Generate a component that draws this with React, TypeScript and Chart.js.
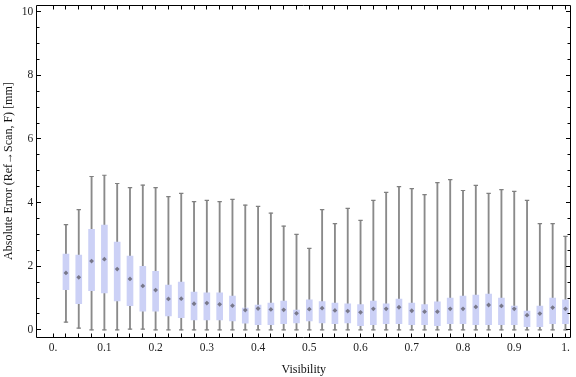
import React, { useEffect, useRef } from "react";
import { Chart, registerables } from "chart.js";

Chart.register(...registerables);

// ---- data ----
const visibility = [
  0.025, 0.05, 0.075, 0.1, 0.125, 0.15, 0.175, 0.2, 0.225, 0.25,
  0.275, 0.3, 0.325, 0.35, 0.375, 0.4, 0.425, 0.45, 0.475, 0.5,
  0.525, 0.55, 0.575, 0.6, 0.625, 0.65, 0.675, 0.7, 0.725, 0.75,
  0.775, 0.8, 0.825, 0.85, 0.875, 0.9, 0.925, 0.95, 0.975, 1.0,
];
const whiskerLow = [
  0.24, 0.05, 0, 0, 0, 0.02, 0.02, 0, 0, 0,
  0, 0, 0, 0, 0, 0, 0, 0, 0, 0,
  0, 0, 0, 0, 0, 0, 0, 0, 0, 0,
  0, 0, 0, 0, 0, 0, 0, 0, 0, 0,
];
const quartile1 = [
  1.26, 0.82, 1.23, 1.16, 0.91, 0.76, 0.59, 0.59, 0.44, 0.38,
  0.31, 0.31, 0.31, 0.28, 0.21, 0.16, 0.16, 0.19, 0.22, 0.28,
  0.22, 0.19, 0.22, 0.13, 0.16, 0.19, 0.19, 0.16, 0.16, 0.13,
  0.19, 0.19, 0.16, 0.16, 0.16, 0.16, 0.1, 0.1, 0.19, 0.19,
];
const medians = [
  1.79, 1.65, 2.16, 2.22, 1.91, 1.6, 1.38, 1.25, 0.97, 0.98,
  0.82, 0.84, 0.8, 0.76, 0.62, 0.67, 0.64, 0.63, 0.52, 0.65,
  0.68, 0.61, 0.59, 0.55, 0.66, 0.66, 0.71, 0.6, 0.57, 0.57,
  0.66, 0.66, 0.72, 0.78, 0.75, 0.66, 0.46, 0.51, 0.7, 0.66,
];
const quartile3 = [
  2.38, 2.35, 3.16, 3.29, 2.76, 2.32, 2.0, 1.84, 1.41, 1.5,
  1.19, 1.16, 1.16, 1.06, 0.68, 0.78, 0.84, 0.9, 0.62, 0.94,
  0.89, 0.84, 0.82, 0.79, 0.9, 0.82, 0.97, 0.84, 0.79, 0.88,
  1.0, 1.06, 1.09, 1.12, 1.0, 0.75, 0.59, 0.75, 1.0, 0.94,
];
const whiskerHigh = [
  3.31, 3.78, 4.82, 4.86, 4.6, 4.47, 4.55, 4.47, 4.19, 4.29,
  4.03, 4.07, 4.03, 4.1, 3.92, 3.88, 3.67, 3.26, 3.0, 2.56,
  3.78, 3.34, 3.82, 3.44, 4.07, 4.32, 4.5, 4.44, 4.25, 4.63,
  4.72, 4.38, 4.54, 4.29, 4.41, 4.35, 4.07, 3.34, 3.34, 2.94,
];

const xTickValues = [0, 0.1, 0.2, 0.3, 0.4, 0.5, 0.6, 0.7, 0.8, 0.9, 1.0];
const xTickLabels = ["0.", "0.1", "0.2", "0.3", "0.4", "0.5", "0.6", "0.7", "0.8", "0.9", "1."];
const yTickValues = [0, 2, 4, 6, 8, 10];
const yTickLabels = ["0", "2", "4", "6", "8", "10"];
const xMinorStep = 0.025;
const yMinorStep = 0.5;

const xTitle = "Visibility";
const yTitle = "Absolute Error (Ref\u2192Scan, F) [mm]";

const FONT = '"Liberation Serif", "Times New Roman", serif';

const frameTicksPlugin = {
  id: "frameTicks",
  afterDraw(chart: any) {
    const { ctx, chartArea, scales } = chart;
    const xs = scales.x;
    const ys = scales.y;
    const al = (v: number) => Math.floor(v) + 0.5;
    const L = al(chartArea.left - 0.2);
    const R = al(chartArea.right - 0.2);
    const T = al(chartArea.top - 0.2);
    const B = al(chartArea.bottom);
    ctx.save();
    ctx.strokeStyle = "#000";
    ctx.lineWidth = 1;
    ctx.beginPath();
    ctx.moveTo(L, T);
    ctx.lineTo(R, T);
    ctx.lineTo(R, B);
    ctx.lineTo(L, B);
    ctx.closePath();
    // x ticks (bottom and top, inward)
    const nx = Math.round(1 / xMinorStep);
    for (let i = 0; i <= nx; i++) {
      const px = al(xs.getPixelForValue(i * xMinorStep));
      ctx.moveTo(px, B);
      ctx.lineTo(px, B - 4);
      ctx.moveTo(px, T);
      ctx.lineTo(px, T + 4);
    }
    // y ticks (left and right, inward)
    const ny = Math.round(10 / yMinorStep);
    for (let i = 0; i <= ny; i++) {
      const v = i * yMinorStep;
      const py = al(ys.getPixelForValue(v));
      const major = Math.abs(v / 2 - Math.round(v / 2)) < 1e-6;
      const len = major ? 4.5 : 3;
      ctx.moveTo(L, py);
      ctx.lineTo(L + len, py);
      ctx.moveTo(R, py);
      ctx.lineTo(R - len, py);
    }
    ctx.stroke();
    ctx.restore();
  },
};

export default function App() {
  const ref = useRef<HTMLCanvasElement>(null);

  useEffect(() => {
    const canvas = ref.current;
    if (!canvas) return;

    const whiskerData = visibility.map((v, i) => ({ x: v, y: [whiskerLow[i], whiskerHigh[i]] }));
    const boxData = visibility.map((v, i) => ({ x: v, y: [quartile1[i], quartile3[i]] }));
    const capData = visibility.flatMap((v, i) => [
      { x: v, y: whiskerLow[i] },
      { x: v, y: whiskerHigh[i] },
    ]);
    const medianData = visibility.map((v, i) => ({ x: v, y: medians[i] }));

    const chart = new Chart(canvas, {
      type: "bar",
      data: {
        datasets: [
          {
            type: "bar",
            data: whiskerData as any,
            backgroundColor: "#8a8a8a",
            barThickness: 1.2,
            grouped: false,
            borderWidth: 0,
            order: 4,
          } as any,
          {
            type: "bar",
            data: boxData as any,
            backgroundColor: "rgb(204,209,246)",
            barThickness: 6,
            grouped: false,
            borderWidth: 0,
            order: 3,
          } as any,
          {
            type: "scatter",
            data: capData,
            pointStyle: "line",
            pointRadius: 2.2,
            borderColor: "#808080",
            borderWidth: 1.2,
            showLine: false,
            order: 2,
          } as any,
          {
            type: "scatter",
            data: medianData,
            pointStyle: "rectRot",
            pointRadius: 2.4,
            backgroundColor: "#78788a",
            borderWidth: 0,
            showLine: false,
            order: 1,
          } as any,
        ],
      },
      options: {
        responsive: false,
        animation: false,
        events: [],
        layout: { padding: { left: 0, right: 0.3, top: 4.7, bottom: 0 } },
        plugins: {
          legend: { display: false },
          tooltip: { enabled: false },
        },
        scales: {
          x: {
            type: "linear",
            min: -0.0321,
            max: 1.0104,
            bounds: "data",
            offset: false,
            grid: { display: false, drawTicks: false, tickLength: 0, offset: false },
            border: { display: false },
            afterBuildTicks: (s: any) => {
              s.ticks = xTickValues.map((v) => ({ value: v }));
            },
            afterFit: (s: any) => {
              s.height = 40;
              s.paddingLeft = 0;
              s.paddingRight = 0;
            },
            ticks: {
              autoSkip: false,
              maxRotation: 0,
              minRotation: 0,
              padding: 4,
              color: "#222",
              font: { family: FONT, size: 11.5 },
              callback: (_v: any, i: number) => xTickLabels[i],
            },
            title: {
              display: true,
              text: xTitle,
              color: "#111",
              font: { family: FONT, size: 12 },
              padding: { top: 0, bottom: 0 },
            },
          } as any,
          y: {
            type: "linear",
            min: -0.226,
            max: 10.207,
            bounds: "data",
            beginAtZero: false,
            grid: { display: false, drawTicks: false, tickLength: 0 },
            border: { display: false },
            afterBuildTicks: (s: any) => {
              s.ticks = yTickValues.map((v) => ({ value: v }));
            },
            afterFit: (s: any) => {
              s.width = 36.7;
              s.paddingTop = 0;
              s.paddingBottom = 0;
            },
            ticks: {
              padding: 3.4,
              color: "#222",
              font: { family: FONT, size: 11.5 },
              callback: (_v: any, i: number) => yTickLabels[i],
            },
            title: {
              display: true,
              text: yTitle,
              color: "#111",
              font: { family: FONT, size: 12 },
              padding: { top: 1.5, bottom: 0 },
            },
          } as any,
        },
      } as any,
      plugins: [frameTicksPlugin],
    });

    return () => chart.destroy();
  }, []);

  return (
    <div style={{ position: "fixed", left: 0, top: 0, width: 576, height: 377, background: "#fff" }}>
      <canvas ref={ref} width={576} height={377} style={{ display: "block", width: 576, height: 377 }} />
    </div>
  );
}
